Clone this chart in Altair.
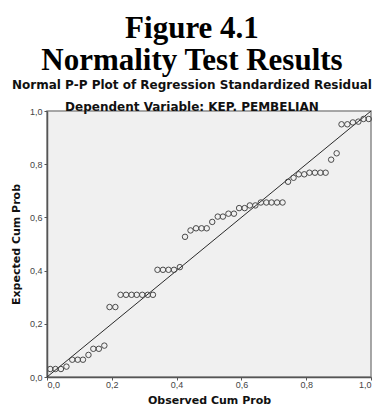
import altair as alt
import pandas as pd

observed = [0.010, 0.026, 0.043, 0.060, 0.078, 0.095, 0.111, 0.128, 0.143, 0.160,
            0.177, 0.193, 0.211, 0.227, 0.244, 0.261, 0.277, 0.294, 0.311, 0.327,
            0.341, 0.358, 0.375, 0.392, 0.410, 0.426, 0.443, 0.460, 0.477, 0.493,
            0.510, 0.527, 0.543, 0.560, 0.577, 0.593, 0.610, 0.626, 0.643, 0.660,
            0.677, 0.693, 0.710, 0.727, 0.744, 0.761, 0.777, 0.794, 0.810, 0.827,
            0.844, 0.860, 0.877, 0.894, 0.909, 0.927, 0.944, 0.961, 0.977, 0.993]
expected = [0.030, 0.030, 0.030, 0.039, 0.065, 0.065, 0.065, 0.083, 0.106, 0.106,
            0.118, 0.263, 0.263, 0.309, 0.309, 0.309, 0.309, 0.309, 0.309, 0.309,
            0.403, 0.403, 0.403, 0.403, 0.413, 0.527, 0.551, 0.559, 0.559, 0.559,
            0.583, 0.603, 0.603, 0.614, 0.614, 0.635, 0.635, 0.645, 0.645, 0.656,
            0.656, 0.656, 0.656, 0.656, 0.734, 0.749, 0.762, 0.762, 0.768, 0.768,
            0.768, 0.768, 0.817, 0.841, 0.950, 0.950, 0.957, 0.960, 0.970, 0.970]
diag_x = [0.0, 1.0]
diag_y = [0.0, 1.0]
ticks = [0.0, 0.2, 0.4, 0.6, 0.8, 1.0]

pts = pd.DataFrame({"obs": observed, "exp": expected})
diag = pd.DataFrame({"obs": diag_x, "exp": diag_y})

label_expr = "replace(format(datum.value, '.1f'), '.', ',')"

xenc = alt.X("obs:Q", scale=alt.Scale(domain=[0, 1], nice=False, zero=False),
             axis=alt.Axis(values=ticks, labelExpr=label_expr, title="Observed Cum Prob"))
yenc = alt.Y("exp:Q", scale=alt.Scale(domain=[0, 1], nice=False, zero=False),
             axis=alt.Axis(values=ticks, labelExpr=label_expr, title="Expected Cum Prob"))

line = alt.Chart(diag).mark_line(color="#2a2a2a", strokeWidth=1).encode(x=xenc, y=yenc)
points = alt.Chart(pts).mark_point(shape="circle", filled=False, size=30,
                                   strokeWidth=1, color="#4a4a4a", opacity=1).encode(x=xenc, y=yenc)

chart = (line + points).properties(
    width=324,
    height=266,
    padding={"left": 2, "top": 5, "right": 0, "bottom": 0},
    title=alt.TitleParams(
        text=["Figure 4.1", "Normality Test Results"],
        subtitle=["Normal P-P Plot of Regression Standardized Residual",
                  "Dependent Variable: KEP. PEMBELIAN"],
        font="Liberation Serif", fontSize=31, fontWeight="bold", lineHeight=32,
        color="black", anchor="middle", frame="bounds",
        subtitleFont="DejaVu Sans", subtitleFontSize=12, subtitleFontWeight="bold",
        subtitleLineHeight=22, subtitleColor="#111111", subtitlePadding=3, offset=-7,
    ),
).configure_view(
    fill="#f0f0f0", stroke="#8a8a8a", strokeWidth=1.5
).configure_axis(
    grid=False, domainColor="#555555", domainWidth=1.5,
    tickColor="#555555", tickSize=3, labelColor="#444444", labelFontSize=9,
    labelFont="Liberation Sans", titleFont="DejaVu Sans", titleFontSize=11,
    titleFontWeight="bold", titleColor="#111111"
).configure_axisX(
    titlePadding=5, labelPadding=0
).configure_axisY(
    titlePadding=8, labelPadding=2
)

chart.save("out.html", embed_options={"renderer": "svg", "actions": False})
